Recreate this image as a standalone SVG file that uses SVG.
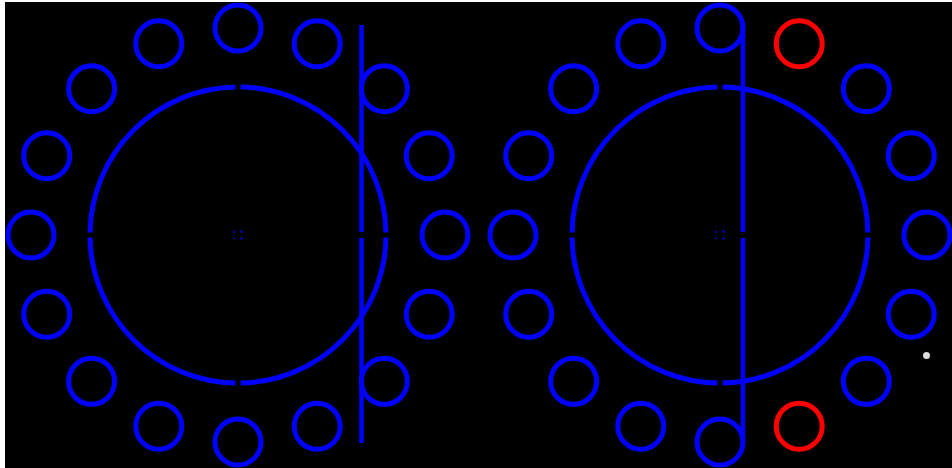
<svg xmlns="http://www.w3.org/2000/svg" width="952" height="468" viewBox="0 0 952 468">
  <style>
    .ring { fill: none; stroke: #0000ff; stroke-width: 5; }
    .big { fill: none; stroke: #0000ff; stroke-width: 5; }
    .red { fill: none; stroke: #ff0000; stroke-width: 5; }
    .line { stroke: #0000ff; stroke-width: 4.5; fill: none; }
    .dot { fill: #0000ff; }
  </style>
  <defs>
    <g id="arcs">
      <path class="big" d="M147.98,2.58 A148,148 0 0 1 2.58,147.98 M-2.58,147.98 A148,148 0 0 1 -147.98,2.58 M-147.98,-2.58 A148,148 0 0 1 -2.58,-147.98 M2.58,-147.98 A148,148 0 0 1 147.98,-2.58"/>
      <rect class="dot" x="-4.5" y="-4" width="1.5" height="1.5"/>
      <rect class="dot" x="2.5" y="-4.5" width="2" height="2"/>
      <rect class="dot" x="-4.5" y="2.5" width="1.5" height="1.5"/>
      <rect class="dot" x="2.5" y="2.5" width="2" height="2"/>
    </g>
  </defs>
  <rect x="5" y="2" width="947" height="466" fill="#000000"/>

  <g id="left-diagram" transform="translate(238,235)">
    <g id="left-core"><use href="#arcs"/></g>
    <g id="left-ring">
      <circle class="ring" cx="207" cy="0" r="23"/>
      <circle class="ring" cx="191.24" cy="79.22" r="23"/>
      <circle class="ring" cx="146.37" cy="146.37" r="23"/>
      <circle class="ring" cx="79.22" cy="191.24" r="23"/>
      <circle class="ring" cx="0" cy="207" r="23"/>
      <circle class="ring" cx="-79.22" cy="191.24" r="23"/>
      <circle class="ring" cx="-146.37" cy="146.37" r="23"/>
      <circle class="ring" cx="-191.24" cy="79.22" r="23"/>
      <circle class="ring" cx="-207" cy="0" r="23"/>
      <circle class="ring" cx="-191.24" cy="-79.22" r="23"/>
      <circle class="ring" cx="-146.37" cy="-146.37" r="23"/>
      <circle class="ring" cx="-79.22" cy="-191.24" r="23"/>
      <circle class="ring" cx="0" cy="-207" r="23"/>
      <circle class="ring" cx="79.22" cy="-191.24" r="23"/>
      <circle class="ring" cx="146.37" cy="-146.37" r="23"/>
      <circle class="ring" cx="191.24" cy="-79.22" r="23"/>
    </g>
  </g>

  <g id="right-diagram" transform="translate(720,235)">
    <g id="right-core"><use href="#arcs"/></g>
    <g id="right-ring">
      <circle class="ring" cx="207" cy="0" r="23"/>
      <circle class="ring" cx="191.24" cy="79.22" r="23"/>
      <circle class="ring" cx="146.37" cy="146.37" r="23"/>
      <circle class="red" cx="79.22" cy="191.24" r="23"/>
      <circle class="ring" cx="0" cy="207" r="23"/>
      <circle class="ring" cx="-79.22" cy="191.24" r="23"/>
      <circle class="ring" cx="-146.37" cy="146.37" r="23"/>
      <circle class="ring" cx="-191.24" cy="79.22" r="23"/>
      <circle class="ring" cx="-207" cy="0" r="23"/>
      <circle class="ring" cx="-191.24" cy="-79.22" r="23"/>
      <circle class="ring" cx="-146.37" cy="-146.37" r="23"/>
      <circle class="ring" cx="-79.22" cy="-191.24" r="23"/>
      <circle class="ring" cx="0" cy="-207" r="23"/>
      <circle class="red" cx="79.22" cy="-191.24" r="23"/>
      <circle class="ring" cx="146.37" cy="-146.37" r="23"/>
      <circle class="ring" cx="191.24" cy="-79.22" r="23"/>
    </g>
  </g>

  <g id="connectors">
    <path class="line" d="M361.5,25 V232 M361.5,238 V443"/>
    <path class="line" d="M743,25 V232 M743,238 V443"/>
  </g>

  <g id="marker-dot">
    <circle cx="926.5" cy="355.5" r="3.5" fill="#dddddd"/>
  </g>
</svg>
